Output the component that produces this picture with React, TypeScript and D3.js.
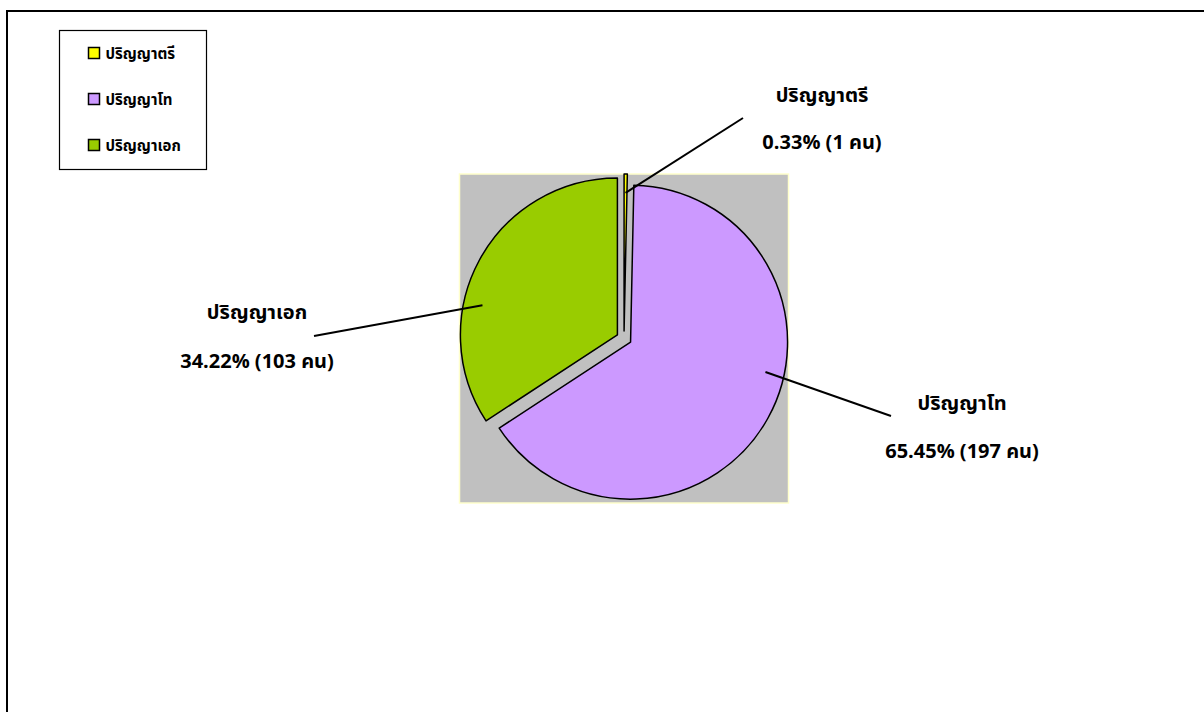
import React from "react";
import * as d3 from "d3";

// Degree levels and head counts
const categories: string[] = ["ปริญญาตรี", "ปริญญาโท", "ปริญญาเอก"];
const counts: number[] = [1, 197, 103];
const unitLabel = "คน";
const sliceColors: string[] = ["#FFFF00", "#CC99FF", "#99CC00"];

// Label placement (text centre, leader end, where the leader starts inside the slice)
const labelLayout = [
  { cx: 822, nameY: 95, valueY: 142, endX: 743, endY: 118, frac: 0.5 },
  { cx: 962, nameY: 403, valueY: 451, endX: 891, endY: 416, frac: 0.43 },
  { cx: 257, nameY: 312, valueY: 361, endX: 314, endY: 336, frac: 0.37 },
];

const FONT = "Tahoma, 'Noto Sans Thai', 'Noto Sans', 'DejaVu Sans', sans-serif";

export default function App() {
  const width = 1204;
  const height = 712;
  const cx = 624;
  const cy = 338.5;
  const radius = 157;
  const explode = 7.5;

  const total = d3.sum(counts);
  const pct = d3.format(".2%");

  const pie = d3
    .pie<number>()
    .sort(null)
    .value((d) => d)
    .startAngle(0)
    .endAngle(2 * Math.PI);
  const arcs = pie(counts);
  const arc = d3.arc<d3.PieArcDatum<number>>().innerRadius(0).outerRadius(radius);

  const plotHalf = radius + explode;

  return (
    <svg
      width={width}
      height={height}
      style={{ position: "absolute", left: 0, top: 0, background: "#fff" }}
      fontFamily={FONT}
    >
      {/* chart frame */}
      <path d={`M7,${height + 5} L7,11 L${width + 5},11`} fill="none" stroke="#000" strokeWidth={2} />

      {/* plot area */}
      <rect
        x={cx - plotHalf}
        y={cy - plotHalf}
        width={plotHalf * 2}
        height={plotHalf * 2}
        fill="#C0C0C0"
        stroke="#FFFFCC"
        strokeWidth={1.5}
      />

      {/* exploded slices */}
      {arcs.map((a, i) => {
        const mid = (a.startAngle + a.endAngle) / 2;
        const ox = Math.sin(mid) * explode;
        const oy = -Math.cos(mid) * explode;
        return (
          <path
            key={categories[i]}
            d={arc(a) || ""}
            transform={`translate(${cx + ox},${cy + oy})`}
            fill={sliceColors[i]}
            stroke="#000"
            strokeWidth={1.5}
            strokeLinejoin="round"
          />
        );
      })}

      {/* leader lines and data labels */}
      {arcs.map((a, i) => {
        const L = labelLayout[i];
        const mid = (a.startAngle + a.endAngle) / 2;
        const sx0 = cx + Math.sin(mid) * explode;
        const sy0 = cy - Math.cos(mid) * explode;
        const ang = a.startAngle + (a.endAngle - a.startAngle) * L.frac;
        const rr = radius * 0.88;
        const sx = sx0 + Math.sin(ang) * rr;
        const sy = sy0 - Math.cos(ang) * rr;
        return (
          <g key={"lab" + i}>
            <line x1={sx} y1={sy} x2={L.endX} y2={L.endY} stroke="#000" strokeWidth={2} />
            <text x={L.cx} y={L.nameY + 7} textAnchor="middle" fontSize={20} fontWeight="bold" fill="#000">
              {categories[i]}
            </text>
            <text x={L.cx} y={L.valueY + 7} textAnchor="middle" fontSize={20} fontWeight="bold" fill="#000">
              {`${pct(counts[i] / total)} (${counts[i]} ${unitLabel})`}
            </text>
          </g>
        );
      })}

      {/* legend */}
      <rect x={59.5} y={30.5} width={147} height={139} fill="#fff" stroke="#000" strokeWidth={1.2} />
      {categories.map((c, i) => (
        <g key={"leg" + c} transform={`translate(88.5,${47.5 + i * 46})`}>
          <rect width={11} height={11} fill={sliceColors[i]} stroke="#000" strokeWidth={1.5} />
          <text x={17} y={11} fontSize={15} fontWeight="bold" fill="#000">
            {c}
          </text>
        </g>
      ))}
    </svg>
  );
}
